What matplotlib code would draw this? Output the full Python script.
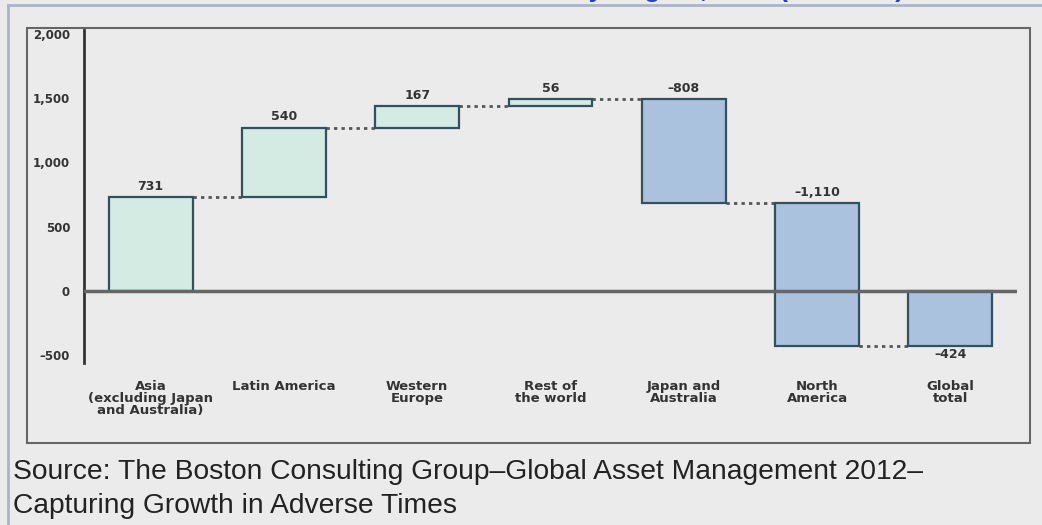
import matplotlib
matplotlib.use("Agg")
from matplotlib import pyplot as plt
from matplotlib.lines import Line2D
from matplotlib.patches import Rectangle
import numpy as np

# data ($ billions)
categories = ["Asia\n(excluding Japan\nand Australia)", "Latin America", "Western\nEurope",
              "Rest of\nthe world", "Japan and\nAustralia", "North\nAmerica", "Global\ntotal"]
changes = [731, 540, 167, 56, -808, -1110]
total = -424
value_labels = ["731", "540", "167", "56", "\u2013808", "\u20131,110", "\u2013424"]
yticks = [-500, 0, 500, 1000, 1500, 2000]
ytick_labels = ["\u2013500", "0", "500", "1,000", "1,500", "2,000"]

BG = "#ebebeb"
POS = "#d3ebe3"
NEG = "#aac2de"
EDGE = "#34505e"
TXT = "#333333"
small = ["Liberation Sans Narrow", "DejaVu Sans"]

fig = plt.figure(figsize=(10.42, 5.25), dpi=100, facecolor=BG)
ax = fig.add_axes([84/1042, 1-363/525, (1017-84)/1042, (363-30)/525])
ax.set_facecolor(BG)

# waterfall bottoms / heights
bottoms = []
heights = []
run = 0
for c in changes:
    bottoms.append(run if c >= 0 else run + c)
    heights.append(abs(c))
    run += c
bottoms.append(total)
heights.append(abs(total))
colors = [POS if c >= 0 else NEG for c in changes] + [NEG]

x = np.arange(len(categories))
w = 0.63
ax.bar(x, heights, w, bottom=bottoms, color=colors, edgecolor=EDGE, linewidth=1.6, zorder=2)

# dotted connectors
run = 0
levels = []
for c in changes:
    run += c
    levels.append(run)
for i, lv in enumerate(levels):
    ax.plot([x[i] + w/2, x[i+1] - w/2], [lv, lv], linestyle=(0, (1.2, 1.5)),
            color="#555555", linewidth=2, zorder=1)

# value labels
tops = [b + h for b, h in zip(bottoms, heights)]
for i in range(len(categories)):
    if i == len(categories) - 1:
        ax.annotate(value_labels[i], (x[i], bottoms[i]), xytext=(0, -2), textcoords="offset points",
                    ha="center", va="top", fontsize=9, color=TXT, family=small, fontweight="bold")
    else:
        ax.annotate(value_labels[i], (x[i], tops[i]), xytext=(0, 3), textcoords="offset points",
                    ha="center", va="bottom", fontsize=9, color=TXT, family=small, fontweight="bold")

# zero line
ax.axhline(0, color="#666666", linewidth=2.5, zorder=3)

ax.set_xlim(-0.5, 6.5)
ax.set_ylim(-560, 2030)
ax.set_yticks(yticks)
ax.set_yticklabels(ytick_labels, fontsize=8.5, color=TXT, family=small, fontweight="bold")
ax.set_xticks(x)
ax.set_xticklabels(categories, fontsize=9.5, color=TXT, family=small, fontweight="bold",
                   linespacing=0.9, va="top")
ax.tick_params(axis="y", length=0, pad=10)
ax.tick_params(axis="x", length=0, pad=12)
for s in ["top", "right", "bottom"]:
    ax.spines[s].set_visible(False)
ax.spines["left"].set_color("#333333")
ax.spines["left"].set_linewidth(2)

# chart box and page frame
fig.patches.append(Rectangle((27/1042, 1-443/525), (1030-27)/1042, (443-28)/525,
                             transform=fig.transFigure, fill=False, edgecolor="#666666",
                             linewidth=1.5, zorder=0))
fig.lines.append(Line2D([8/1042, 1], [1-5/525, 1-5/525], transform=fig.transFigure,
                        color="#a9b3cc", linewidth=2))
fig.lines.append(Line2D([8/1042, 8/1042], [0, 1-5/525], transform=fig.transFigure,
                        color="#a9b3cc", linewidth=2))

# title (cut off at the top edge, as in the reference) and source
fig.text(0.61, 1 + 2.5/525, "Net New Assets by Region, 2011 ($billions)", ha="center", va="baseline",
         fontsize=19, fontweight="bold", color="#2243c4", family="Liberation Sans")
fig.text(13/1042, 1-472/525, "Source: The Boston Consulting Group\u2013Global Asset Management 2012\u2013",
         ha="left", va="center", fontsize=20.3, color="#222222", family="Liberation Sans")
fig.text(13/1042, 1-506/525, "Capturing Growth in Adverse Times",
         ha="left", va="center", fontsize=20.3, color="#222222", family="Liberation Sans")

fig.savefig("out.png", dpi=100, facecolor=BG)
